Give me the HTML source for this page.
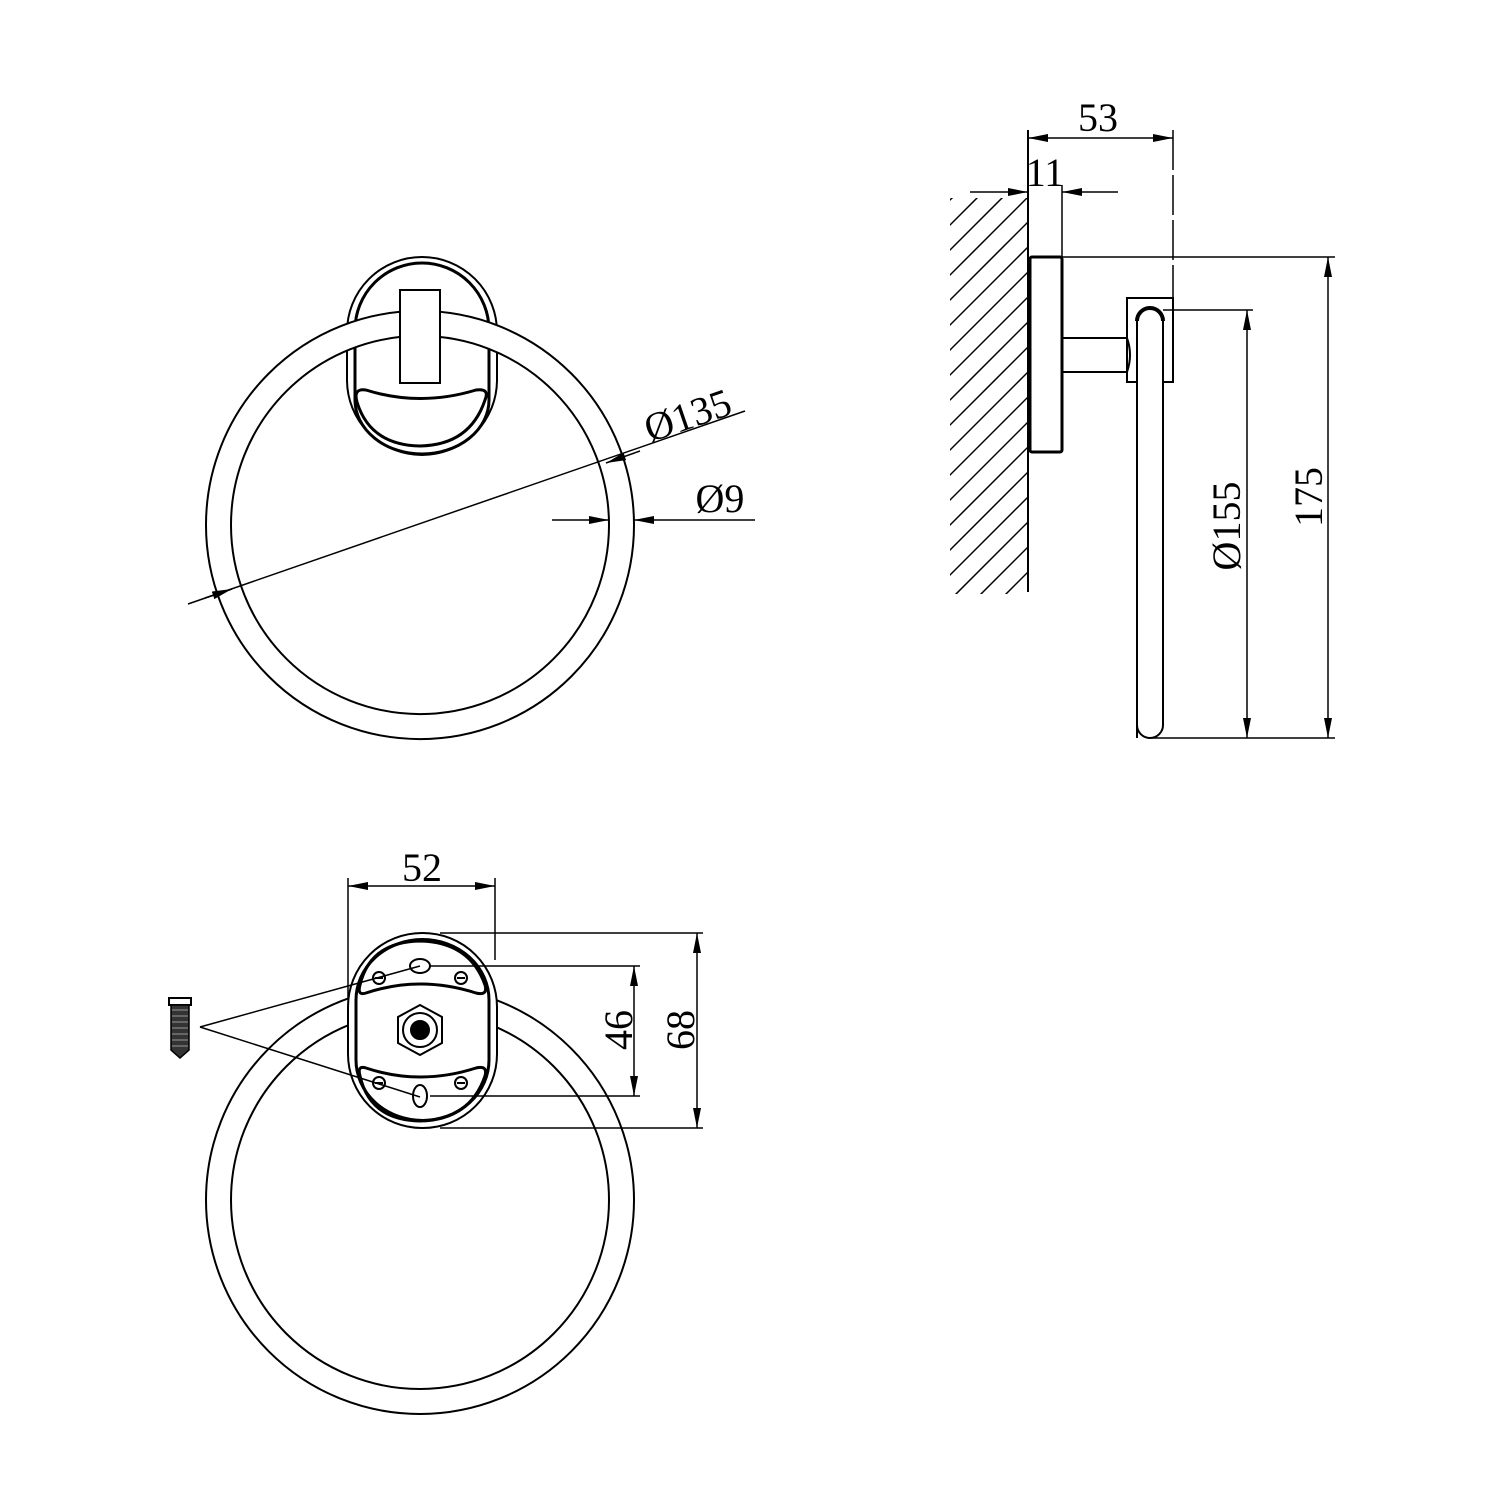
<!DOCTYPE html>
<html><head><meta charset="utf-8"><style>html,body{margin:0;padding:0;background:#fff}svg{display:block}</style></head>
<body>
<svg width="1500" height="1500" viewBox="0 0 1500 1500" xmlns="http://www.w3.org/2000/svg" font-family="Liberation Serif, serif" font-size="40">
<defs>
<marker id="a" viewBox="0 0 20 8" refX="20" refY="4" markerWidth="20" markerHeight="8" markerUnits="userSpaceOnUse" orient="auto-start-reverse"><path d="M0,0 L20,4 L0,8 Z" fill="#000"/></marker>
<clipPath id="wc"><rect x="950" y="198" width="78" height="396"/></clipPath>
</defs>
<rect width="1500" height="1500" fill="#fff"/>
<g fill="none" stroke="#000" stroke-width="2">

<!-- TOP VIEW -->
<rect x="347" y="257" width="150" height="198" rx="75" ry="75"/>
<path d="M355,330 A67,67 0 0 1 489,330 L489,400 A67,54 0 0 1 355,400 Z" stroke-width="3"/>
<path d="M420,525 m-214,0 a214,214 0 1,0 428,0 a214,214 0 1,0 -428,0 M420,525 m-189,0 a189,189 0 1,0 378,0 a189,189 0 1,0 -378,0" fill="#fff" fill-rule="evenodd"/>
<rect x="400" y="290" width="40" height="93" fill="#fff"/>
<path d="M366,390 Q420,407 476,390 Q490,388 485,400 Q470,445 420,446 Q370,445 357,402 Q353,388 366,390 Z" stroke-width="3" fill="#fff"/>
<line x1="188" y1="604" x2="745" y2="411" stroke-width="1.5"/>
<line x1="640" y1="451" x2="606" y2="463" stroke-width="1.5" marker-end="url(#a)"/>
<line x1="205" y1="598" x2="232" y2="589" stroke-width="1.5" marker-end="url(#a)"/>
<line x1="552" y1="520" x2="609" y2="520" stroke-width="1.5" marker-end="url(#a)"/>
<line x1="755" y1="520" x2="634" y2="520" stroke-width="1.5" marker-end="url(#a)"/>
</g>
<text x="692" y="428" transform="rotate(-19 692 428)" text-anchor="middle">Ø135</text>
<text x="720" y="512" text-anchor="middle">Ø9</text>

<!-- SIDE VIEW -->
<g fill="none" stroke="#000" stroke-width="2">
<g clip-path="url(#wc)" stroke-width="1.5">
<path d="M900,250 L1080,70 M900,275 L1080,95 M900,300 L1080,120 M900,325 L1080,145 M900,350 L1080,170 M900,375 L1080,195 M900,400 L1080,220 M900,425 L1080,245 M900,450 L1080,270 M900,475 L1080,295 M900,500 L1080,320 M900,525 L1080,345 M900,550 L1080,370 M900,575 L1080,395 M900,600 L1080,420 M900,625 L1080,445 M900,650 L1080,470 M900,675 L1080,495 M900,700 L1080,520 M900,725 L1080,545 M900,750 L1080,570 M900,775 L1080,595"/>
</g>
<line x1="1028" y1="130" x2="1028" y2="592"/>
<rect x="1030" y="257" width="32" height="195" rx="2" stroke-width="3"/>
<path d="M1062,338 L1127,338 Q1133,355 1127,372 L1062,372"/>
<rect x="1127" y="298" width="46" height="84"/>
<path d="M1137,738 L1137,321 A13,13 0 0 1 1163,321 L1163,725 A13,13 0 0 1 1137,725" fill="#fff"/>
<path d="M1137,321 A13,13 0 0 1 1163,321" stroke-width="4"/>
<g stroke-width="1.5">
<line x1="1062" y1="185" x2="1062" y2="257"/>
<line x1="1173" y1="130" x2="1173" y2="298" stroke-dasharray="40 5"/>
<line x1="1062" y1="257" x2="1335" y2="257"/>
<line x1="1150" y1="738" x2="1335" y2="738"/>
<line x1="1163" y1="310" x2="1253" y2="310"/>
<line x1="1050" y1="138" x2="1028" y2="138" marker-end="url(#a)"/>
<line x1="1050" y1="138" x2="1173" y2="138" marker-end="url(#a)"/>
<line x1="970" y1="192" x2="1028" y2="192" marker-end="url(#a)"/>
<line x1="1118" y1="192" x2="1062" y2="192" marker-end="url(#a)"/>
<line x1="1328" y1="400" x2="1328" y2="257" marker-end="url(#a)"/>
<line x1="1328" y1="400" x2="1328" y2="738" marker-end="url(#a)"/>
<line x1="1247" y1="500" x2="1247" y2="310" marker-end="url(#a)"/>
<line x1="1247" y1="500" x2="1247" y2="738" marker-end="url(#a)"/>
</g>
</g>
<text x="1098" y="131" text-anchor="middle">53</text>
<text x="1045" y="186" text-anchor="middle">11</text>
<text transform="translate(1240,526) rotate(-90)" text-anchor="middle">Ø155</text>
<text transform="translate(1322,497) rotate(-90)" text-anchor="middle">175</text>

<!-- BOTTOM VIEW -->
<g fill="none" stroke="#000" stroke-width="2">
<circle cx="420" cy="1200" r="214"/>
<circle cx="420" cy="1200" r="189"/>
<rect x="348" y="933" width="149" height="195" rx="74" ry="74" fill="#fff"/>
<path d="M356,1005 L356,1000 A66,60 0 0 1 489,1000 L489,1060 A66,60 0 0 1 356,1060 Z" stroke-width="3"/>
<path d="M366,993 Q420,975 476,993 Q488,996 485,985 Q470,942 420,941 Q370,942 360,985 Q357,996 366,993 Z" stroke-width="3"/>
<path d="M366,1068 Q420,1086 476,1068 Q488,1065 485,1076 Q470,1120 420,1121 Q370,1120 360,1076 Q357,1065 366,1068 Z" stroke-width="3"/>
<ellipse cx="420" cy="966" rx="10" ry="7"/>
<ellipse cx="420" cy="1096" rx="7" ry="11"/>
<circle cx="379" cy="978" r="6"/><line x1="375" y1="978" x2="383" y2="978"/>
<circle cx="461" cy="978" r="6"/><line x1="457" y1="978" x2="465" y2="978"/>
<circle cx="379" cy="1083" r="6"/><line x1="375" y1="1083" x2="383" y2="1083"/>
<circle cx="461" cy="1083" r="6"/><line x1="457" y1="1083" x2="465" y2="1083"/>
<polygon points="420,1005 442,1017 442,1043 420,1055 398,1043 398,1017"/>
<circle cx="420" cy="1030" r="17"/>
<circle cx="420" cy="1030" r="9" fill="#000"/>
<g stroke-width="1.5">
<line x1="200" y1="1027" x2="420" y2="966"/>
<line x1="200" y1="1027" x2="420" y2="1097"/>
<line x1="348" y1="878" x2="348" y2="1000"/>
<line x1="495" y1="878" x2="495" y2="960"/>
<line x1="420" y1="886" x2="348" y2="886" marker-end="url(#a)"/>
<line x1="420" y1="886" x2="495" y2="886" marker-end="url(#a)"/>
<line x1="430" y1="966" x2="640" y2="966"/>
<line x1="430" y1="1096" x2="640" y2="1096"/>
<line x1="440" y1="933" x2="703" y2="933"/>
<line x1="440" y1="1128" x2="703" y2="1128"/>
<line x1="634" y1="1030" x2="634" y2="966" marker-end="url(#a)"/>
<line x1="634" y1="1030" x2="634" y2="1096" marker-end="url(#a)"/>
<line x1="697" y1="1030" x2="697" y2="933" marker-end="url(#a)"/>
<line x1="697" y1="1030" x2="697" y2="1128" marker-end="url(#a)"/>
</g>
</g>
<text x="422" y="881" text-anchor="middle">52</text>
<text transform="translate(632,1030) rotate(-90)" text-anchor="middle">46</text>
<text transform="translate(694,1030) rotate(-90)" text-anchor="middle">68</text>

<!-- screw -->
<rect x="169" y="998" width="22" height="7" fill="#fff" stroke="#000" stroke-width="2"/>
<path d="M171,1005 L189,1005 L189,1050 L180,1058 L171,1050 Z" fill="#333" stroke="#000" stroke-width="1.5"/>
<g stroke="#999" stroke-width="1"><line x1="172" y1="1010" x2="188" y2="1010"/><line x1="172" y1="1016" x2="188" y2="1016"/><line x1="172" y1="1022" x2="188" y2="1022"/><line x1="172" y1="1028" x2="188" y2="1028"/><line x1="172" y1="1034" x2="188" y2="1034"/><line x1="172" y1="1040" x2="188" y2="1040"/><line x1="172" y1="1046" x2="188" y2="1046"/></g>
</svg>
</body></html>
